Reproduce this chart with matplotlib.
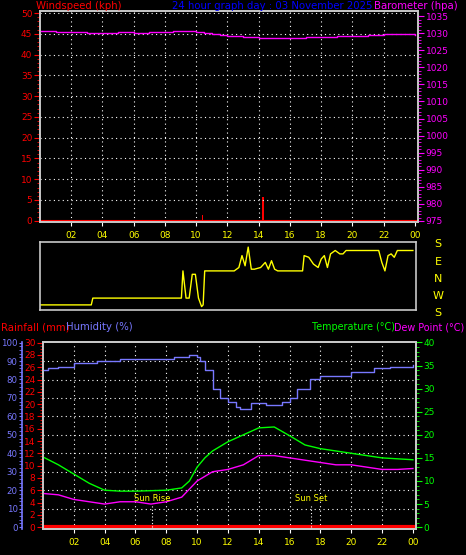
import matplotlib
matplotlib.use("Agg")
import matplotlib.pyplot as plt
import numpy as np

W, H = 466, 555
hours_ticks = [2,4,6,8,10,12,14,16,18,20,22,24]
tick_labels = ["02","04","06","08","10","12","14","16","18","20","22","00"]

baro_t = [0,0.5,1,2,2.5,3,4,5,6,7,8,8.5,9,9.5,10,10.5,11,11.5,12,13,14,15,16,17,18,19,20,21,22,22.5,23,24]
baro_v = [1030.5,1030.5,1030.4,1030.4,1030.3,1030.2,1030.2,1030.3,1030.2,1030.3,1030.4,1030.6,1030.5,1030.5,1030.3,1030.1,1029.9,1029.5,1029.2,1028.8,1028.5,1028.6,1028.7,1028.8,1029.0,1029.1,1029.3,1029.5,1029.7,1029.8,1029.7,1029.6]
wind_t = [10.4, 14.3]
wind_v = [1.5, 5.8]

dir_t = [0,3.3,3.4,9.1,9.2,9.4,9.6,9.8,10.0,10.2,10.4,10.5,10.6,10.8,12.5,12.8,13.0,13.2,13.4,13.6,13.8,14.2,14.5,14.7,14.9,15.1,15.3,16.9,17.0,17.3,17.6,17.9,18.1,18.3,18.5,18.7,19.0,19.3,19.5,19.7,21.8,22.0,22.2,22.4,22.6,22.8,23.0,23.2,24]
dir_v = [0.2,0.2,0.6,0.6,2.2,0.6,0.6,2.0,2.0,0.6,0.1,0.2,2.2,2.2,2.2,2.4,3.1,2.5,3.6,2.3,2.3,2.4,2.7,2.3,2.8,2.3,2.2,2.2,3.1,3.0,2.6,2.4,2.9,3.1,2.4,3.2,3.4,3.2,3.2,3.4,3.4,2.7,2.2,3.1,3.2,3.0,3.4,3.4,3.4]

hum_t = [0,0.3,1,2,3.5,5,6.5,8.5,9.5,10.0,10.2,10.5,11,11.5,12,12.5,12.8,13.5,14.5,15.5,16,16.5,17.3,18,20,21.5,22.5,24]
hum_v = [85,86,87,89,90,91,91,92,93,92,90,85,75,70,68,65,64,67,66,68,70,75,80,82,84,86,87,88]

temp_t = [0,1,2,3,4,5,6,7,8,9,9.5,10,10.5,11,12,13,14,15,16,17,18,20,22,24]
temp_v = [15.2,13.5,11.5,9.5,8,7.8,7.8,7.9,8,8.5,10,13,15,16.5,18.5,20,21.5,21.7,19.8,17.8,17,16,15,14.6]
dew_t = [0,1,2,3,4,5,6,7,8,9,10,11,12,13,14,15,16,17,18,19,20,21,22,23,24]
dew_v = [7.3,7,6,5.5,5,5.5,5.5,5,5.5,6.5,10,12,12.5,13.5,15.5,15.5,15,14.5,14,13.5,13.5,13,12.5,12.5,12.7]
rain_t = [0,24]
rain_v = [0,0]
sunrise, sunset = 7.1, 17.4

RED, MAG, YEL, HUM, GRN, BLUE = "#ff0000", "#ff00ff", "#ffff00", "#7878ff", "#00ff00", "#0000ff"
FS = 6.5
TS = 7.3

fig = plt.figure(figsize=(W/100, H/100), dpi=100, facecolor="black")

def ax_px(x0, y0, x1, y1):
    return fig.add_axes([x0/W, 1-y1/H, (x1-x0)/W, (y1-y0)/H], facecolor="black")

def style(ax, spinecol="#c8c8c8"):
    for s in ax.spines.values():
        s.set_color(spinecol)
        s.set_linewidth(1.2)

def grid(ax, ys):
    for x in hours_ticks[:-1]:
        ax.axvline(x, color="white", ls=(0,(1,3)), lw=0.8)
    for y in ys:
        ax.axhline(y, color="white", ls=(0,(1,3)), lw=0.8)

def yt(ax, col, major, minor):
    ax.set_yticks(major)
    ax.set_yticks(minor, minor=True)
    ax.tick_params(axis="y", colors=col, labelsize=FS, length=4, pad=1.5)
    ax.tick_params(axis="y", which="minor", colors=col, length=2)

# ---- panel 1
a1 = ax_px(40, 11, 418, 222)
style(a1)
a1.set_xlim(0, 24.2)
a1.set_ylim(-0.3, 50.5)
grid(a1, range(5, 51, 5))
yt(a1, RED, range(0, 51, 5), range(0, 51, 1))
a1.set_xticks(hours_ticks)
a1.set_xticklabels(tick_labels)
a1.tick_params(axis="x", colors="white", labelcolor=YEL, labelsize=FS, length=3)
a1.bar(wind_t, wind_v, width=0.12, color=RED)
a1.axhline(0, color=RED, lw=1.5)
b1 = a1.twinx()
b1.set_ylim(974.7, 1036.5)
yt(b1, MAG, range(975, 1036, 5), range(975, 1036, 1))
style(b1)
b1.plot(baro_t, baro_v, color=MAG, lw=1, drawstyle="steps-post")
fig.text(36/W, 1-9/H, "Windspeed (kph)", color=RED, fontsize=TS, va="baseline")
fig.text(172/W, 1-9/H, "24 hour graph day : 03 November 2025", color=BLUE, fontsize=TS, va="baseline")
fig.text(458/W, 1-9/H, "Barometer (hpa)", color=MAG, fontsize=TS, va="baseline", ha="right")

# ---- panel 2
a2 = ax_px(40, 242, 416, 310)
style(a2)
a2.set_xlim(0, 24.2)
a2.set_ylim(-0.1, 3.9)
a2.set_yticks([])
a2.set_xticks([])
a2.plot(dir_t, dir_v, color=YEL, lw=1)
for lab, y in zip(["S","E","N","W","S"], [244,262,279,296,313]):
    fig.text(438/W, 1-y/H, lab, color=YEL, fontsize=8, va="center", ha="center")

# ---- panel 3
a3 = ax_px(43, 342, 416, 529)
style(a3)
a3.set_xlim(0, 24.2)
a3.set_ylim(-0.3, 30.1)
grid(a3, range(3, 30, 3))
yt(a3, RED, range(0, 31, 2), np.arange(0, 30.1, 0.5))
a3.set_xticks(hours_ticks)
a3.set_xticklabels(tick_labels)
a3.tick_params(axis="x", colors="white", labelcolor=YEL, labelsize=FS, length=3)
a3.plot(rain_t, rain_v, color=RED, lw=3)

h3 = a3.twinx()
h3.yaxis.tick_left()
h3.spines["left"].set_position(("outward", 15))
style(h3)
h3.spines["left"].set_color(HUM)
h3.set_ylim(-1, 100.3)
yt(h3, HUM, range(0, 101, 10), range(0, 101, 2))
h3.tick_params(axis="y", length=2.5, pad=0.8, labelsize=6.2)
h3.plot(hum_t, hum_v, color=HUM, lw=1, drawstyle="steps-post")

t3 = a3.twinx()
style(t3)
t3.set_ylim(-0.4, 40.1)
yt(t3, GRN, range(0, 41, 5), range(0, 41, 1))
t3.plot(temp_t, temp_v, color=GRN, lw=1)
t3.plot(dew_t, dew_v, color=MAG, lw=1)
for x, lab in [(sunrise, "Sun Rise"), (sunset, "Sun Set")]:
    t3.plot([x, x], [0, 5], color="white", ls=(0,(1,2)), lw=0.8)
    t3.text(x, 5.2, lab, color=YEL, fontsize=6, ha="center", va="bottom")

fig.text(1/W, 1-332/H, "Rainfall (mm)", color=RED, fontsize=TS, va="bottom")
fig.text(66/W, 1-332/H, "Humidity (%)", color=HUM, fontsize=TS, va="bottom")
fig.text(312/W, 1-332/H, "Temperature (°C)", color=GRN, fontsize=TS-0.4, va="bottom")
fig.text(464/W, 1-332/H, "Dew Point (°C)", color=MAG, fontsize=TS-0.4, va="bottom", ha="right")

fig.savefig("out.png", dpi=100, facecolor="black")
